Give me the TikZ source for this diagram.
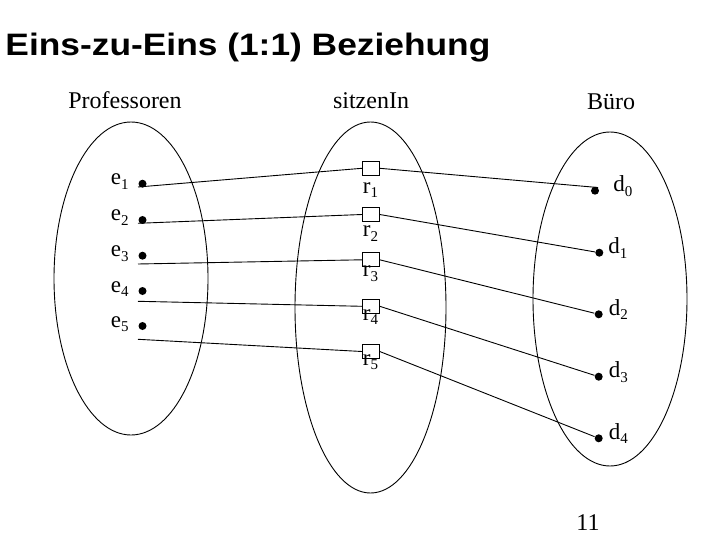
\documentclass[tikz,border=0pt]{standalone}
\usepackage{fontspec}
\setmainfont{Liberation Serif}
\setsansfont{Liberation Sans}
\usepackage{graphicx}

\newcommand\idx[2]{#1\raisebox{-4.5pt}{\fontsize{15}{15}\selectfont #2}}

\begin{document}
\begin{tikzpicture}[x=1pt,y=-1pt,line width=0.9pt,
  dot/.style={circle,fill,inner sep=0pt,minimum size=8pt},
  relbox/.style={draw,inner sep=0pt,minimum width=17pt,minimum height=14pt},
  lbl/.style={font=\fontsize{23}{23}\selectfont,inner sep=0pt},
  head/.style={font=\fontsize{24}{24}\selectfont,inner sep=0pt,anchor=base}]
  \useasboundingbox (0,0) rectangle (720,540);
  \node[anchor=base west,inner sep=0pt,font=\sffamily\bfseries\fontsize{31}{31}\selectfont] (title) at (5,56) {\scalebox{1.14}[1]{Eins-zu-Eins (1:1) Beziehung}};
  \node[head] (prof) at (125,108.5) {Professoren};
  \node[head] (sitz) at (371,108.5) {sitzenIn};
  \node[head] (buero) at (611,109.5) {Büro};
  % die drei Mengen
  \draw (131,278.5) ellipse [x radius=77,y radius=156.5];
  \draw (370.5,307.5) ellipse [x radius=75.5,y radius=185.5];
  \draw (610,299) ellipse [x radius=77,y radius=167];
  % Professoren
  \foreach[count=\i] \y/\ly in {183.7/187,220/223.3,255.7/264,291/301.3,326/339.3} {
    \node[dot] (e\i) at (142.5,\y) {};
    \node[lbl,anchor=base east] (le\i) at (129,\y+1) {\idx{e}{\i}};
    \coordinate (s\i) at (138,\ly);
  }
  % Beziehungen
  \foreach[count=\i] \y/\ly in {168.3/193.3,214.5/236.7,259.8/276.7,306.3/320,351.5/365} {
    \node[relbox] (r\i) at (370.8,\y) {};
    \node[lbl,anchor=base west] (lr\i) at (362.5,\ly) {\idx{r}{\i}};
  }
  % Bueros
  \foreach[count=\i from 0] \x/\y/\lx in {595/190.7/613,599.3/252.7/608,598.7/314.3/608.5,598.7/376.7/608.5,598.7/438.3/608.5} {
    \node[dot] (d\i) at (\x,\y) {};
    \node[lbl,anchor=base west] (ld\i) at (\lx,\y+1) {\idx{d}{\i}};
  }
  \foreach \i in {1,...,5}
    \draw (s\i) -- (r\i.west);
  \draw (r1.east) -- (d0.north east);
  \foreach[evaluate=\i as \j using int(\i-1)] \i in {2,...,5}
    \draw (r\i.east) -- (d\j);
  \node[head] (page) at (588,530) {11};
\end{tikzpicture}
\end{document}
